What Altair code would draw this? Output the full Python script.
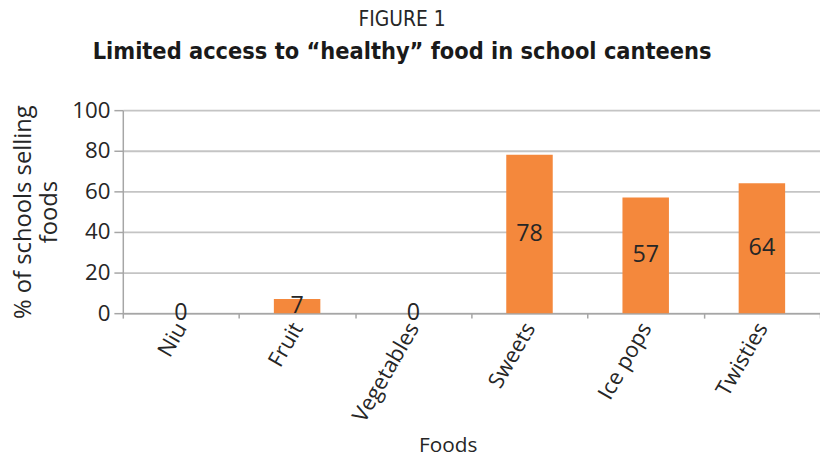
import altair as alt
import pandas as pd

# Share of school canteens selling each food
foods = ["Niu", "Fruit", "Vegetables", "Sweets", "Ice pops", "Twisties"]
pct = [0, 7, 0, 78, 57, 64]
y_ticks = [0, 20, 40, 60, 80, 100]

df = pd.DataFrame({"food": foods, "pct": pct})

AXIS_FONT = "Open Sans"
TITLE_FONT = "Liberation Sans Narrow, DejaVu Sans Condensed, sans-serif"
TEXT = "#262626"
LINE = "#a6a6a6"

x_enc = alt.X(
    "food:N",
    sort=foods,
    scale=alt.Scale(domain=foods, paddingInner=0, paddingOuter=0),
    axis=alt.Axis(
        title="Foods",
        titleFont=AXIS_FONT,
        titleFontSize=21,
        titleFontWeight="normal",
        titleColor=TEXT,
        titleX=328,
        titleY=134,
        titleBaseline="middle",
        labelAngle=-60,
        labelAlign="right",
        labelBaseline="middle",
        labelFont=AXIS_FONT,
        labelFontSize=22,
        labelColor=TEXT,
        labelPadding=6,
        tickBand="extent",
        tickSize=5,
        tickColor=LINE,
        tickWidth=1.5,
        domainColor=LINE,
        domainWidth=1.5,
        grid=False,
    ),
)

y_scale = alt.Scale(domain=[0, 100])

bars = alt.Chart(df).mark_bar(
    color="#F4883C", width=alt.RelativeBandSize(0.4)
).encode(
    x=x_enc,
    y=alt.Y(
        "pct:Q",
        scale=y_scale,
        axis=alt.Axis(
            values=y_ticks,
            title=["% of schools selling", "foods"],
            titleFont=AXIS_FONT,
            titleFontSize=24,
            titleFontWeight="normal",
            titleColor=TEXT,
            titleLineHeight=27,
            titlePadding=10,
            labelFont=AXIS_FONT,
            labelFontSize=22.5,
            labelColor=TEXT,
            labelPadding=4,
            tickSize=9,
            tickColor=LINE,
            tickWidth=1.5,
            domainColor=LINE,
            domainWidth=1.5,
            grid=True,
            gridColor="#c4c4c4",
            gridWidth=1.8,
        ),
    ),
)

labels = alt.Chart(df).mark_text(
    font=AXIS_FONT, fontSize=23.5, color=TEXT, baseline="middle", align="center"
).transform_calculate(
    mid="datum.pct / 2"
).encode(
    x=alt.X("food:N", sort=foods),
    y=alt.Y("mid:Q", scale=y_scale),
    text=alt.Text("pct:Q"),
)

chart = (
    alt.layer(bars, labels)
    .properties(
        width=704,
        height=205,
        autosize=alt.AutoSizeParams(type="none"),
        padding={"left": 124, "top": 109, "right": 0, "bottom": 143},
        background="white",
        title=alt.TitleParams(
            text="FIGURE 1",
            subtitle="Limited access to “healthy” food in school canteens",
            font=TITLE_FONT,
            fontSize=21,
            fontWeight="normal",
            color=TEXT,
            subtitleFont=TITLE_FONT,
            subtitleFontSize=23.6,
            subtitleFontWeight="bold",
            subtitleColor="#1a1a1a",
            subtitlePadding=10,
            anchor="middle",
            frame="group",
            dx=-70,
            offset=36,
        ),
    )
    .configure_view(stroke=None)
)

chart.save("out.html", embed_options={"renderer": "svg", "actions": False})
